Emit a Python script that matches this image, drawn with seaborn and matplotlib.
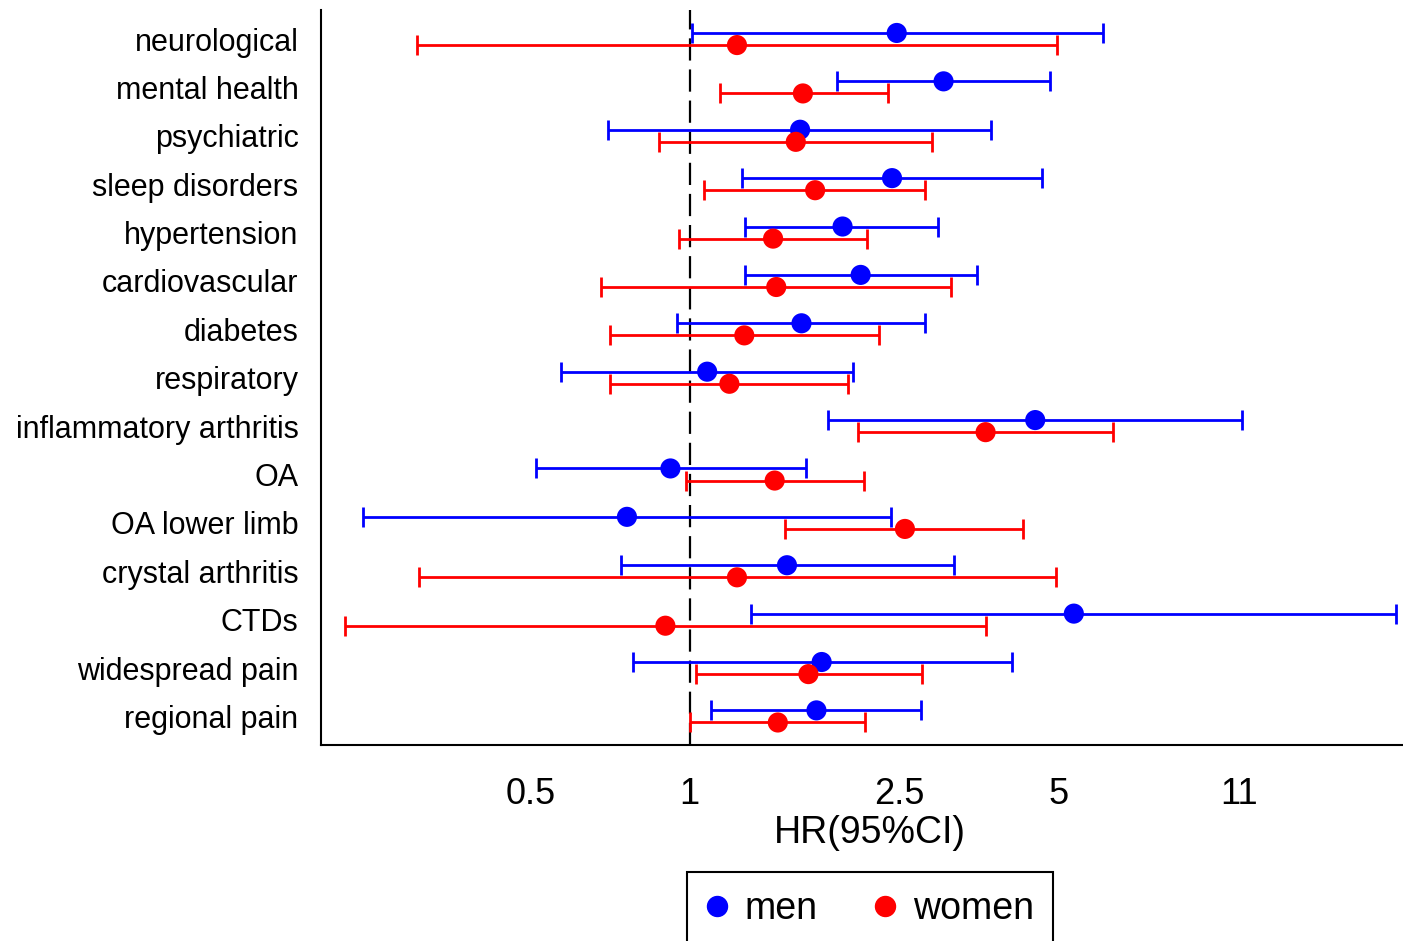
import pandas as pd
import seaborn as sns
import matplotlib
matplotlib.use('Agg')
import matplotlib.pyplot as plt
from matplotlib.lines import Line2D
from matplotlib.ticker import NullLocator

# conditions, top to bottom
categories = ['neurological', 'mental health', 'psychiatric', 'sleep disorders',
              'hypertension', 'cardiovascular', 'diabetes', 'respiratory',
              'inflammatory arthritis', 'OA', 'OA lower limb', 'crystal arthritis',
              'CTDs', 'widespread pain', 'regional pain']

# hazard ratios with 95% CI
men_hr = [2.47, 3.03, 1.62, 2.42, 1.95, 2.11, 1.63, 1.08, 4.52, 0.92, 0.761, 1.53, 5.35, 1.78, 1.74]
men_lo = [1.01, 1.90, 0.70, 1.26, 1.275, 1.275, 0.947, 0.571, 1.83, 0.511, 0.241, 0.743, 1.31, 0.783, 1.10]
men_hi = [6.08, 4.83, 3.73, 4.66, 2.96, 3.50, 2.80, 2.04, 11.14, 1.66, 2.41, 3.17, 21.8, 4.08, 2.75]

women_hr = [1.23, 1.64, 1.59, 1.73, 1.44, 1.46, 1.27, 1.19, 3.64, 1.45, 2.56, 1.23, 0.90, 1.68, 1.47]
women_lo = [0.304, 1.14, 0.877, 1.065, 0.953, 0.681, 0.706, 0.706, 2.09, 0.983, 1.52, 0.307, 0.2225, 1.028, 1.0]
women_hi = [4.97, 2.38, 2.88, 2.80, 2.17, 3.13, 2.29, 2.00, 6.36, 2.14, 4.29, 4.96, 3.65, 2.76, 2.15]

tick_vals = [0.5, 1, 2.5, 5, 11]
tick_labels = ['0.5', '1', '2.5', '5', '11']

colours = {'men': 'blue', 'women': 'red'}
offsets = {'men': -0.125, 'women': 0.125}

rows = []
for sex, hr, lo, hi in [('men', men_hr, men_lo, men_hi), ('women', women_hr, women_lo, women_hi)]:
    for i, cat in enumerate(categories):
        rows.append({'condition': cat, 'sex': sex, 'hr': hr[i], 'lo': lo[i], 'hi': hi[i],
                     'pos': i + offsets[sex]})
df = pd.DataFrame(rows)

sns.set_style('white')
plt.rcParams['font.family'] = ['Liberation Sans', 'DejaVu Sans']
plt.rcParams['text.color'] = 'black'
plt.rcParams['axes.labelcolor'] = 'black'
plt.rcParams['xtick.color'] = 'black'
plt.rcParams['ytick.color'] = 'black'

fig = plt.figure(figsize=(14.03, 9.41), dpi=100)
ax = fig.add_axes([0.2286, 0.2083, 0.7714, 0.7811])

ax.axvline(1, color='black', ls=(0, (10, 4)), lw=1.6, zorder=1)

for sex, colour in colours.items():
    sub = df[df['sex'] == sex]
    ax.errorbar(sub['hr'], sub['pos'], xerr=[sub['hr'] - sub['lo'], sub['hi'] - sub['hr']],
                fmt='none', ecolor=colour, elinewidth=2, capsize=7.2, capthick=2, zorder=2)

sns.scatterplot(data=df, x='hr', y='pos', hue='sex', palette=colours, s=210,
                edgecolor='none', legend=False, zorder=3, ax=ax)

ax.set_xscale('log')
ax.set_xlim(0.2, 22.5)
ax.set_ylim(14.59, -0.6)
ax.set_xticks(tick_vals)
ax.set_xticklabels(tick_labels)
ax.xaxis.set_minor_locator(NullLocator())
ax.set_yticks(range(len(categories)))
ax.set_yticklabels(categories, fontsize=22)
ax.tick_params(axis='y', length=0, pad=16)
ax.tick_params(axis='x', length=11, width=1.5, labelsize=26, pad=12)
ax.set_xlabel('HR(95%CI)', fontsize=27, labelpad=4)
ax.xaxis.set_label_coords(0.5075, -0.095)
ax.set_ylabel('')

for side in ['top', 'right']:
    ax.spines[side].set_visible(False)
for side in ['left', 'bottom']:
    ax.spines[side].set_color('black')
    ax.spines[side].set_linewidth(1.5)

handles = [Line2D([], [], marker='o', ls='none', color=colours[s], markersize=14.4) for s in colours]
leg = fig.legend(handles, list(colours), loc='upper center', bbox_to_anchor=(870 / 1403, 1 - 872 / 941),
                 ncol=2, frameon=True, fancybox=False, edgecolor='black', framealpha=1, fontsize=27,
                 handlelength=0.6, handletextpad=0.45, columnspacing=1.5, borderaxespad=0,
                 borderpad=0.5)
leg.get_frame().set_linewidth(1.5)

fig.savefig('out.png', dpi=100)
